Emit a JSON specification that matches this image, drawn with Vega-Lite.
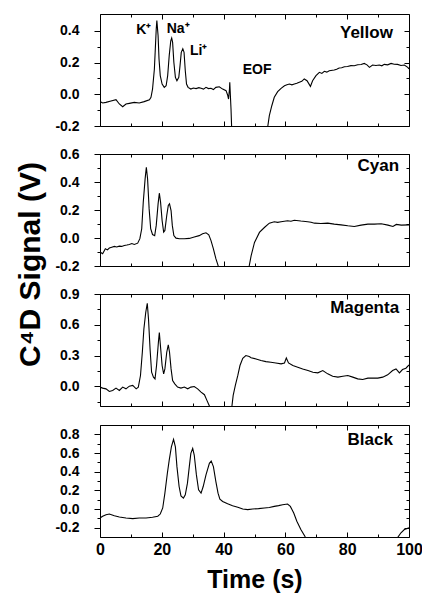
{
  "$schema": "https://vega.github.io/schema/vega-lite/v6.json",
  "background": "white",
  "padding": {"left": 14, "top": 13, "right": 0, "bottom": 0},
  "bounds": "full",
  "spacing": 14,
  "config": {
    "view": {"stroke": "black", "strokeWidth": 1},
    "font": "Liberation Sans",
    "axis": {"grid": false, "domain": false, "tickColor": "black", "tickWidth": 1, "labelColor": "black", "labelFont": "Liberation Sans", "labelFontWeight": "bold", "labelFlush": false, "labelOverlap": false, "titleFont": "Liberation Sans", "titleFontWeight": "bold", "titleColor": "black"}
  },
  "datasets": {
    "yellow": [
      {"t":0,"v":-0.046},{"t":0.86,"v":-0.055},{"t":1.94,"v":-0.051},{"t":3.56,"v":-0.042},{"t":5.18,"v":-0.034},{"t":6.26,"v":-0.061},{"t":7.34,"v":-0.078},{"t":8.41,"v":-0.061},{"t":9.49,"v":-0.057},{"t":11.1,"v":-0.051},{"t":12.7,"v":-0.055},{"t":14.3,"v":-0.046},{"t":16.0,"v":-0.034},{"t":16.5,"v":-0.019},{"t":17.0,"v":0.033},{"t":17.6,"v":0.16},{"t":17.9,"v":0.286},{"t":18.2,"v":0.412},{"t":18.4,"v":0.465},{"t":18.8,"v":0.37},{"t":19.1,"v":0.223},{"t":19.5,"v":0.118},{"t":20.1,"v":0.065},{"t":20.8,"v":0.044},{"t":21.4,"v":0.054},{"t":21.9,"v":0.118},{"t":22.4,"v":0.244},{"t":22.9,"v":0.338},{"t":23.2,"v":0.355},{"t":23.5,"v":0.328},{"t":23.9,"v":0.202},{"t":24.4,"v":0.107},{"t":24.9,"v":0.086},{"t":25.5,"v":0.107},{"t":25.9,"v":0.181},{"t":26.3,"v":0.265},{"t":26.8,"v":0.288},{"t":27.2,"v":0.265},{"t":27.6,"v":0.149},{"t":28.0,"v":0.065},{"t":28.5,"v":0.044},{"t":29.4,"v":0.033},{"t":30.2,"v":0.04},{"t":31.1,"v":0.036},{"t":32.0,"v":0.042},{"t":32.7,"v":0.038},{"t":33.5,"v":0.033},{"t":34.3,"v":0.044},{"t":35.1,"v":0.036},{"t":35.9,"v":0.038},{"t":36.7,"v":0.03},{"t":37.5,"v":0.044},{"t":38.6,"v":0.048},{"t":39.7,"v":0.033},{"t":40.8,"v":0.023},{"t":41.3,"v":-0.004},{"t":41.6,"v":-0.03},{"t":41.9,"v":0.033},{"t":42.0,"v":0.076},{"t":42.2,"v":-0.009},{"t":42.4,"v":-0.093},{"t":42.6,"v":-0.208},{"t":42.8,"v":-0.5},{"t":54.0,"v":-0.5},{"t":54.3,"v":-0.202},{"t":54.8,"v":-0.135},{"t":55.6,"v":-0.072},{"t":56.4,"v":-0.019},{"t":57.5,"v":0.017},{"t":58.6,"v":0.038},{"t":59.7,"v":0.054},{"t":60.5,"v":0.06},{"t":61.3,"v":0.065},{"t":62.1,"v":0.06},{"t":62.9,"v":0.065},{"t":63.7,"v":0.07},{"t":64.5,"v":0.076},{"t":65.3,"v":0.082},{"t":66.1,"v":0.097},{"t":67.0,"v":0.086},{"t":68.1,"v":0.05},{"t":68.8,"v":0.086},{"t":69.9,"v":0.118},{"t":71.0,"v":0.139},{"t":71.8,"v":0.132},{"t":72.6,"v":0.145},{"t":73.4,"v":0.14},{"t":74.2,"v":0.149},{"t":75.8,"v":0.153},{"t":76.6,"v":0.158},{"t":77.4,"v":0.166},{"t":78.2,"v":0.168},{"t":79.1,"v":0.174},{"t":80.1,"v":0.176},{"t":81.2,"v":0.181},{"t":82.3,"v":0.18},{"t":83.4,"v":0.187},{"t":84.5,"v":0.188},{"t":85.5,"v":0.195},{"t":86.4,"v":0.186},{"t":87.2,"v":0.17},{"t":88.2,"v":0.185},{"t":89.3,"v":0.182},{"t":90.4,"v":0.185},{"t":91.2,"v":0.18},{"t":92.0,"v":0.189},{"t":93.1,"v":0.186},{"t":94.2,"v":0.195},{"t":95.2,"v":0.19},{"t":96.3,"v":0.189},{"t":97.4,"v":0.182},{"t":98.5,"v":0.185},{"t":99.6,"v":0.17},{"t":100,"v":0.16}
    ],
    "cyan": [
      {"t":0,"v":-0.1},{"t":0.86,"v":-0.112},{"t":1.73,"v":-0.077},{"t":2.4,"v":-0.085},{"t":3.02,"v":-0.072},{"t":3.8,"v":-0.066},{"t":4.64,"v":-0.06},{"t":5.4,"v":-0.064},{"t":6.26,"v":-0.058},{"t":7.0,"v":-0.06},{"t":7.87,"v":-0.053},{"t":8.7,"v":-0.05},{"t":9.49,"v":-0.046},{"t":10.3,"v":-0.04},{"t":11.1,"v":-0.046},{"t":12.2,"v":-0.037},{"t":12.9,"v":-0.005},{"t":13.5,"v":0.066},{"t":14.0,"v":0.256},{"t":14.6,"v":0.422},{"t":15.0,"v":0.505},{"t":15.4,"v":0.422},{"t":15.9,"v":0.208},{"t":16.4,"v":0.066},{"t":17.0,"v":0.025},{"t":17.7,"v":0.017},{"t":18.2,"v":0.09},{"t":18.8,"v":0.244},{"t":19.2,"v":0.32},{"t":19.6,"v":0.256},{"t":20.1,"v":0.125},{"t":20.6,"v":0.042},{"t":21.0,"v":0.054},{"t":21.6,"v":0.161},{"t":22.1,"v":0.232},{"t":22.5,"v":0.244},{"t":23.0,"v":0.196},{"t":23.4,"v":0.09},{"t":23.9,"v":0.017},{"t":24.6,"v":-0.001},{"t":25.7,"v":-0.005},{"t":27.3,"v":-0.005},{"t":28.9,"v":-0.003},{"t":30.5,"v":0.007},{"t":32.1,"v":0.017},{"t":33.2,"v":0.03},{"t":34.3,"v":0.037},{"t":35.2,"v":0.023},{"t":35.9,"v":-0.017},{"t":36.7,"v":-0.077},{"t":37.5,"v":-0.148},{"t":38.2,"v":-0.195},{"t":38.5,"v":-0.23},{"t":38.8,"v":-0.5},{"t":48.0,"v":-0.5},{"t":48.3,"v":-0.198},{"t":48.9,"v":-0.127},{"t":50.0,"v":-0.032},{"t":51.6,"v":0.04},{"t":53.2,"v":0.075},{"t":54.8,"v":0.106},{"t":56.4,"v":0.116},{"t":57.5,"v":0.112},{"t":58.6,"v":0.116},{"t":60.7,"v":0.123},{"t":61.8,"v":0.12},{"t":62.9,"v":0.127},{"t":65.0,"v":0.121},{"t":67.2,"v":0.116},{"t":68.3,"v":0.112},{"t":69.4,"v":0.106},{"t":71.5,"v":0.104},{"t":73.7,"v":0.106},{"t":75.8,"v":0.099},{"t":78.0,"v":0.094},{"t":80.2,"v":0.087},{"t":82.3,"v":0.082},{"t":84.5,"v":0.092},{"t":86.7,"v":0.099},{"t":88.8,"v":0.099},{"t":91.0,"v":0.102},{"t":93.2,"v":0.092},{"t":94.8,"v":0.082},{"t":95.9,"v":0.097},{"t":97.5,"v":0.092},{"t":100,"v":0.094}
    ],
    "magenta": [
      {"t":0,"v":-0.006},{"t":0.86,"v":-0.016},{"t":1.94,"v":-0.023},{"t":3.02,"v":-0.048},{"t":4.1,"v":-0.039},{"t":5.18,"v":-0.016},{"t":6.26,"v":-0.039},{"t":7.34,"v":-0.006},{"t":8.41,"v":-0.023},{"t":9.49,"v":0.003},{"t":10.6,"v":0.01},{"t":11.7,"v":-0.023},{"t":12.4,"v":-0.006},{"t":13.1,"v":0.107},{"t":13.7,"v":0.333},{"t":14.2,"v":0.559},{"t":14.8,"v":0.72},{"t":15.3,"v":0.81},{"t":15.7,"v":0.655},{"t":16.2,"v":0.365},{"t":16.7,"v":0.139},{"t":17.3,"v":0.091},{"t":17.8,"v":0.074},{"t":18.3,"v":0.204},{"t":18.9,"v":0.43},{"t":19.2,"v":0.526},{"t":19.6,"v":0.381},{"t":20.1,"v":0.204},{"t":20.6,"v":0.123},{"t":21.0,"v":0.171},{"t":21.6,"v":0.333},{"t":22.1,"v":0.404},{"t":22.5,"v":0.333},{"t":23.0,"v":0.171},{"t":23.5,"v":0.058},{"t":24.2,"v":0.026},{"t":25.1,"v":-0.006},{"t":26.2,"v":-0.016},{"t":27.3,"v":-0.006},{"t":28.4,"v":-0.023},{"t":29.4,"v":-0.006},{"t":30.5,"v":0.0},{"t":31.6,"v":-0.023},{"t":32.7,"v":-0.055},{"t":33.8,"v":-0.08},{"t":34.6,"v":-0.135},{"t":35.4,"v":-0.19},{"t":35.8,"v":-0.23},{"t":36.0,"v":-0.5},{"t":42.5,"v":-0.5},{"t":42.7,"v":-0.19},{"t":43.1,"v":-0.087},{"t":43.8,"v":0.01},{"t":44.6,"v":0.107},{"t":45.3,"v":0.204},{"t":46.2,"v":0.275},{"t":47.2,"v":0.301},{"t":48.3,"v":0.291},{"t":48.9,"v":0.28},{"t":50.5,"v":0.268},{"t":52.1,"v":0.252},{"t":53.7,"v":0.242},{"t":55.3,"v":0.236},{"t":56.9,"v":0.229},{"t":58.6,"v":0.22},{"t":59.7,"v":0.229},{"t":60.3,"v":0.278},{"t":61.0,"v":0.229},{"t":62.4,"v":0.204},{"t":64.0,"v":0.188},{"t":65.6,"v":0.171},{"t":67.3,"v":0.155},{"t":68.9,"v":0.139},{"t":70.5,"v":0.133},{"t":72.1,"v":0.155},{"t":73.7,"v":0.123},{"t":75.3,"v":0.1},{"t":77.0,"v":0.091},{"t":78.6,"v":0.1},{"t":80.2,"v":0.107},{"t":81.8,"v":0.091},{"t":83.4,"v":0.074},{"t":85.0,"v":0.068},{"t":86.7,"v":0.081},{"t":88.3,"v":0.081},{"t":89.9,"v":0.081},{"t":91.5,"v":0.091},{"t":93.1,"v":0.113},{"t":94.7,"v":0.155},{"t":95.8,"v":0.171},{"t":96.9,"v":0.133},{"t":97.9,"v":0.165},{"t":99.0,"v":0.178},{"t":100,"v":0.21}
    ],
    "black": [
      {"t":0,"v":-0.096},{"t":0.86,"v":-0.078},{"t":1.94,"v":-0.061},{"t":3.02,"v":-0.054},{"t":4.64,"v":-0.072},{"t":6.26,"v":-0.086},{"t":8.41,"v":-0.096},{"t":10.6,"v":-0.103},{"t":12.7,"v":-0.096},{"t":14.9,"v":-0.096},{"t":17.0,"v":-0.089},{"t":18.7,"v":-0.078},{"t":19.5,"v":-0.054},{"t":20.3,"v":0.011},{"t":21.0,"v":0.17},{"t":21.8,"v":0.383},{"t":22.4,"v":0.524},{"t":23.1,"v":0.666},{"t":23.8,"v":0.745},{"t":24.4,"v":0.666},{"t":24.9,"v":0.454},{"t":25.6,"v":0.241},{"t":26.2,"v":0.141},{"t":27.0,"v":0.117},{"t":27.6,"v":0.152},{"t":28.3,"v":0.277},{"t":28.9,"v":0.454},{"t":29.4,"v":0.596},{"t":30.0,"v":0.649},{"t":30.5,"v":0.578},{"t":31.2,"v":0.365},{"t":31.9,"v":0.205},{"t":32.7,"v":0.17},{"t":33.4,"v":0.241},{"t":34.3,"v":0.365},{"t":35.4,"v":0.489},{"t":36.0,"v":0.514},{"t":36.7,"v":0.454},{"t":37.5,"v":0.294},{"t":38.2,"v":0.17},{"t":38.8,"v":0.106},{"t":39.7,"v":0.081},{"t":41.3,"v":0.056},{"t":42.9,"v":0.035},{"t":44.6,"v":0.018},{"t":46.2,"v":0.0},{"t":47.8,"v":-0.007},{"t":49.4,"v":0.0},{"t":51.3,"v":0.004},{"t":53.2,"v":0.01},{"t":54.8,"v":0.016},{"t":56.4,"v":0.028},{"t":57.8,"v":0.036},{"t":59.1,"v":0.046},{"t":60.7,"v":0.053},{"t":61.6,"v":0.028},{"t":62.7,"v":-0.043},{"t":63.7,"v":-0.131},{"t":65.0,"v":-0.22},{"t":66.3,"v":-0.291},{"t":66.6,"v":-0.32},{"t":67.0,"v":-0.6},{"t":96.0,"v":-0.6},{"t":96.4,"v":-0.302},{"t":97.4,"v":-0.255},{"t":98.5,"v":-0.22},{"t":100,"v":-0.202}
    ]
  },
  "vconcat": [
    {
      "bounds": "flush",
      "spacing": 28,
      "vconcat": [
        {
          "width": 309, "height": 112,
          "resolve": {"axis": {"x": "independent", "y": "independent"}},
          "layer": [
            {
              "data": {"name": "yellow"},
              "mark": {"type": "line", "color": "black", "strokeWidth": 1.1, "clip": true},
              "encoding": {
                "x": {"field": "t", "type": "quantitative", "scale": {"domain": [0, 100], "nice": false},
                  "axis": {"orient": "bottom", "values": [0,10,20,30,40,50,60,70,80,90,100], "labels": false, "title": null,
                    "tickSize": {"condition": {"test": "datum.value % 20 == 0", "value": -5}, "value": -3}}},
                "y": {"field": "v", "type": "quantitative", "scale": {"domain": [-0.2, 0.507], "nice": false, "zero": false},
                  "axis": {"orient": "left", "values": [-0.2,-0.1,0,0.1,0.2,0.3,0.4], "title": null, "labelFontSize": 14, "labelPadding": 15,
                    "labelExpr": "abs(round(datum.value*10)) % 2 == 0 ? replace(format(datum.value, '.1f'), '\u2212', '-') : ''",
                    "tickSize": {"condition": {"test": "abs(round(datum.value*10)) % 2 == 0", "value": 6}, "value": 3}}}
              }
            },
            {
              "data": {"values": [
                {"t": 11.7, "v": 0.38, "label": "K⁺"},
                {"t": 21.6, "v": 0.385, "label": "Na⁺"},
                {"t": 29.1, "v": 0.248, "label": "Li⁺"},
                {"t": 46.2, "v": 0.126, "label": "EOF"}
              ]},
              "mark": {"type": "text", "align": "left", "baseline": "alphabetic", "font": "Liberation Sans", "fontWeight": "bold", "fontSize": 14, "color": "black"},
              "encoding": {
                "x": {"field": "t", "type": "quantitative", "scale": {"domain": [0, 100], "nice": false},
                  "axis": {"orient": "top", "values": [0,10,20,30,40,50,60,70,80,90,100], "labels": false, "title": null,
                    "tickSize": {"condition": {"test": "datum.value % 20 == 0", "value": -5}, "value": -3}}},
                "y": {"field": "v", "type": "quantitative", "scale": {"domain": [-0.2, 0.507], "nice": false, "zero": false},
                  "axis": {"orient": "right", "values": [-0.2,-0.1,0,0.1,0.2,0.3,0.4], "labels": false, "title": null,
                    "tickSize": {"condition": {"test": "abs(round(datum.value*10)) % 2 == 0", "value": -5}, "value": -3}}},
                "text": {"field": "label"}
              }
            },
            {
              "data": {"values": [{"t": 94.8, "v": 0.355, "label": "Yellow"}]},
              "mark": {"type": "text", "align": "right", "baseline": "alphabetic", "font": "Liberation Sans", "fontWeight": "bold", "fontSize": 17, "color": "black"},
              "encoding": {
                "x": {"field": "t", "type": "quantitative", "axis": null},
                "y": {"field": "v", "type": "quantitative", "axis": null},
                "text": {"field": "label"}
              }
            }
          ]
        },
        {
          "width": 309, "height": 112,
          "resolve": {"axis": {"x": "independent", "y": "independent"}},
          "layer": [
            {
              "data": {"name": "cyan"},
              "mark": {"type": "line", "color": "black", "strokeWidth": 1.1, "clip": true},
              "encoding": {
                "x": {"field": "t", "type": "quantitative", "scale": {"domain": [0, 100], "nice": false},
                  "axis": {"orient": "bottom", "values": [0,10,20,30,40,50,60,70,80,90,100], "labels": false, "title": null,
                    "tickSize": {"condition": {"test": "datum.value % 20 == 0", "value": -5}, "value": -3}}},
                "y": {"field": "v", "type": "quantitative", "scale": {"domain": [-0.2, 0.6], "nice": false, "zero": false},
                  "axis": {"orient": "left", "values": [-0.2,-0.1,0,0.1,0.2,0.3,0.4,0.5,0.6], "labelFontSize": 14, "labelPadding": 15,
                    "labelExpr": "abs(round(datum.value*10)) % 2 == 0 ? replace(format(datum.value, '.1f'), '\u2212', '-') : ''",
                    "tickSize": {"condition": {"test": "abs(round(datum.value*10)) % 2 == 0", "value": 6}, "value": 3},
                    "title": "C⁴D Signal (V)", "titleFontSize": 30, "titleX": -61, "titleY": 110, "titleAngle": -90, "titleAlign": "center", "titleBaseline": "alphabetic"}}
              }
            },
            {
              "data": {"values": [{"t": 96.8, "v": 0.479, "label": "Cyan"}]},
              "mark": {"type": "text", "align": "right", "baseline": "alphabetic", "font": "Liberation Sans", "fontWeight": "bold", "fontSize": 17, "color": "black"},
              "encoding": {
                "x": {"field": "t", "type": "quantitative", "scale": {"domain": [0, 100], "nice": false},
                  "axis": {"orient": "top", "values": [0,10,20,30,40,50,60,70,80,90,100], "labels": false, "title": null,
                    "tickSize": {"condition": {"test": "datum.value % 20 == 0", "value": -5}, "value": -3}}},
                "y": {"field": "v", "type": "quantitative", "scale": {"domain": [-0.2, 0.6], "nice": false, "zero": false},
                  "axis": {"orient": "right", "values": [-0.2,-0.1,0,0.1,0.2,0.3,0.4,0.5,0.6], "labels": false, "title": null,
                    "tickSize": {"condition": {"test": "abs(round(datum.value*10)) % 2 == 0", "value": -5}, "value": -3}}},
                "text": {"field": "label"}
              }
            }
          ]
        },
        {
          "width": 309, "height": 112,
          "resolve": {"axis": {"x": "independent", "y": "independent"}},
          "layer": [
            {
              "data": {"name": "magenta"},
              "mark": {"type": "line", "color": "black", "strokeWidth": 1.1, "clip": true},
              "encoding": {
                "x": {"field": "t", "type": "quantitative", "scale": {"domain": [0, 100], "nice": false},
                  "axis": {"orient": "bottom", "values": [0,10,20,30,40,50,60,70,80,90,100], "labels": false, "title": null,
                    "tickSize": {"condition": {"test": "datum.value % 20 == 0", "value": -5}, "value": -3}}},
                "y": {"field": "v", "type": "quantitative", "scale": {"domain": [-0.19, 0.9], "nice": false, "zero": false},
                  "axis": {"orient": "left", "values": [-0.15,0,0.15,0.3,0.45,0.6,0.75,0.9], "title": null, "labelFontSize": 14, "labelPadding": 15,
                    "labelExpr": "abs(round(datum.value*100)) % 30 == 0 ? replace(format(datum.value, '.1f'), '\u2212', '-') : ''",
                    "tickSize": {"condition": {"test": "abs(round(datum.value*100)) % 30 == 0", "value": 6}, "value": 3}}}
              }
            },
            {
              "data": {"values": [{"t": 96.8, "v": 0.716, "label": "Magenta"}]},
              "mark": {"type": "text", "align": "right", "baseline": "alphabetic", "font": "Liberation Sans", "fontWeight": "bold", "fontSize": 17, "color": "black"},
              "encoding": {
                "x": {"field": "t", "type": "quantitative", "scale": {"domain": [0, 100], "nice": false},
                  "axis": {"orient": "top", "values": [0,10,20,30,40,50,60,70,80,90,100], "labels": false, "title": null,
                    "tickSize": {"condition": {"test": "datum.value % 20 == 0", "value": -5}, "value": -3}}},
                "y": {"field": "v", "type": "quantitative", "scale": {"domain": [-0.19, 0.9], "nice": false, "zero": false},
                  "axis": {"orient": "right", "values": [-0.15,0,0.15,0.3,0.45,0.6,0.75,0.9], "labels": false, "title": null,
                    "tickSize": {"condition": {"test": "abs(round(datum.value*100)) % 30 == 0", "value": -5}, "value": -3}}},
                "text": {"field": "label"}
              }
            }
          ]
        }
      ]
    },
    {
      "width": 309, "height": 112,
      "resolve": {"axis": {"x": "independent", "y": "independent"}},
      "layer": [
        {
          "data": {"name": "black"},
          "mark": {"type": "line", "color": "black", "strokeWidth": 1.1, "clip": true},
          "encoding": {
            "x": {"field": "t", "type": "quantitative", "scale": {"domain": [0, 100], "nice": false},
              "axis": {"orient": "bottom", "values": [0,10,20,30,40,50,60,70,80,90,100], "labelFontSize": 16, "labelPadding": 9,
                "labelExpr": "datum.value % 20 == 0 ? datum.label : ''",
                "tickSize": {"condition": {"test": "datum.value % 20 == 0", "value": -5}, "value": -3},
                "title": "Time (s)", "titleFontSize": 25, "titlePadding": 8}},
            "y": {"field": "v", "type": "quantitative", "scale": {"domain": [-0.3, 0.9], "nice": false, "zero": false},
              "axis": {"orient": "left", "values": [-0.2,-0.1,0,0.1,0.2,0.3,0.4,0.5,0.6,0.7,0.8], "title": null, "labelFontSize": 14, "labelPadding": 15,
                "labelExpr": "abs(round(datum.value*10)) % 2 == 0 ? replace(format(datum.value, '.1f'), '\u2212', '-') : ''",
                "tickSize": {"condition": {"test": "abs(round(datum.value*10)) % 2 == 0", "value": 6}, "value": 3}}}
          }
        },
        {
          "data": {"values": [{"t": 94.8, "v": 0.69, "label": "Black"}]},
          "mark": {"type": "text", "align": "right", "baseline": "alphabetic", "font": "Liberation Sans", "fontWeight": "bold", "fontSize": 17, "color": "black"},
          "encoding": {
            "x": {"field": "t", "type": "quantitative", "scale": {"domain": [0, 100], "nice": false},
              "axis": {"orient": "top", "values": [0,10,20,30,40,50,60,70,80,90,100], "labels": false, "title": null,
                "tickSize": {"condition": {"test": "datum.value % 20 == 0", "value": -5}, "value": -3}}},
            "y": {"field": "v", "type": "quantitative", "scale": {"domain": [-0.3, 0.9], "nice": false, "zero": false},
              "axis": {"orient": "right", "values": [-0.2,-0.1,0,0.1,0.2,0.3,0.4,0.5,0.6,0.7,0.8], "labels": false, "title": null,
                "tickSize": {"condition": {"test": "abs(round(datum.value*10)) % 2 == 0", "value": -5}, "value": -3}}},
            "text": {"field": "label"}
          }
        }
      ]
    }
  ]
}
